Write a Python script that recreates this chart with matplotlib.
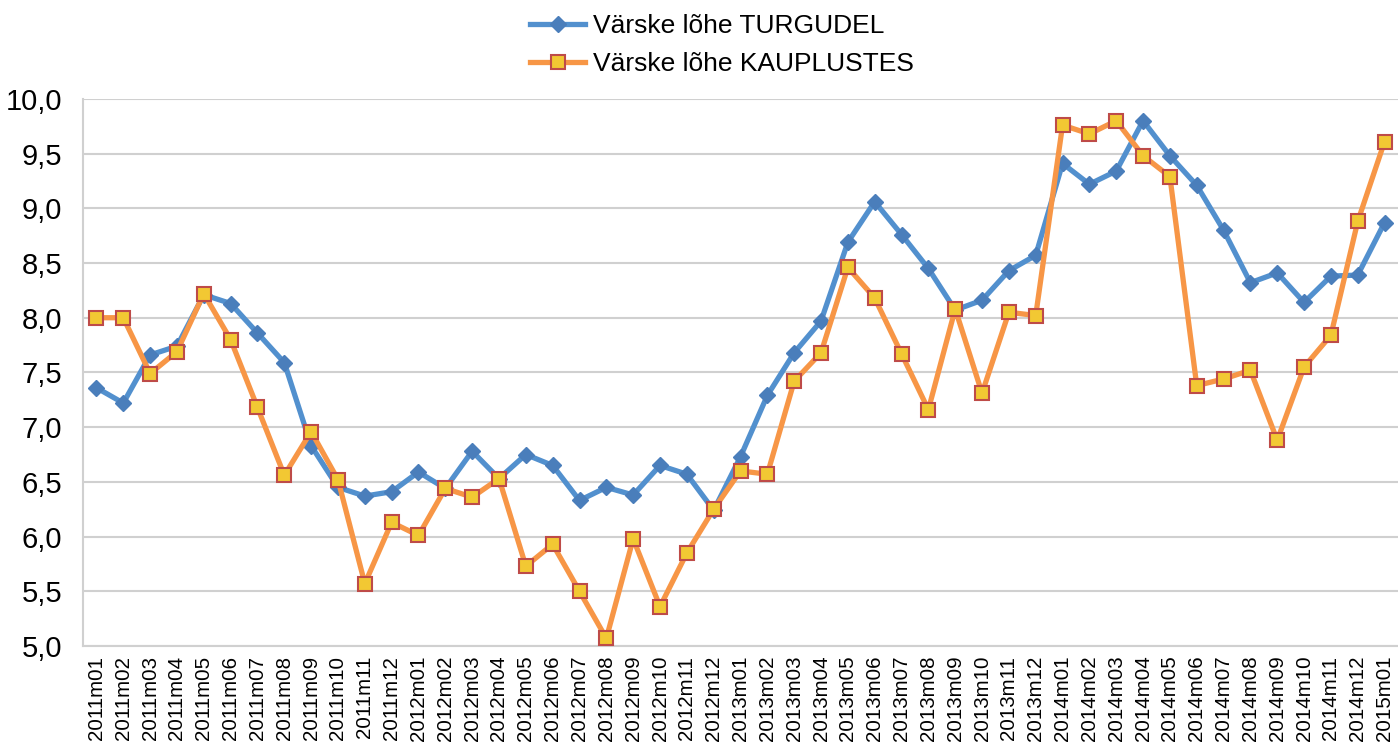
import matplotlib.pyplot as plt
from matplotlib.ticker import FuncFormatter

kuud = [f"{a}m{k:02d}" for a in range(2011, 2015) for k in range(1, 13)] + ["2015m01"]

turgudel = [7.36, 7.22, 7.66, 7.74, 8.21, 8.13, 7.86, 7.59, 6.83, 6.45, 6.37, 6.41,
            6.59, 6.44, 6.78, 6.53, 6.75, 6.65, 6.33, 6.45, 6.38, 6.65, 6.57, 6.24,
            6.73, 7.29, 7.68, 7.97, 8.69, 9.06, 8.76, 8.45, 8.07, 8.16, 8.43, 8.57,
            9.41, 9.22, 9.34, 9.80, 9.48, 9.21, 8.80, 8.32, 8.41, 8.14, 8.38, 8.39,
            8.87]
kauplustes = [8.00, 8.00, 7.49, 7.69, 8.22, 7.80, 7.18, 6.56, 6.96, 6.52, 5.57, 6.13,
              6.01, 6.44, 6.36, 6.53, 5.73, 5.93, 5.50, 5.07, 5.98, 5.36, 5.85, 6.25,
              6.60, 6.57, 7.42, 7.68, 8.46, 8.18, 7.67, 7.16, 8.08, 7.31, 8.05, 8.02,
              9.76, 9.68, 9.80, 9.48, 9.29, 7.38, 7.44, 7.52, 6.88, 7.55, 7.84, 8.88,
              9.61]

plt.rcParams['font.family'] = ['Liberation Sans', 'DejaVu Sans']

fig = plt.figure(figsize=(13.98, 7.49), dpi=100)
ax = fig.add_axes([0.0594, 0.1375, 0.9406, 0.7305])

x = range(len(kuud))
ax.plot(x, turgudel, color='#5290CE', lw=3.8, marker='D', ms=8.5,
        mfc='#4A7EBB', mec='#4A7EBB', label='Värske lõhe TURGUDEL', zorder=3)
ax.plot(x, kauplustes, color='#F79646', lw=3.8, marker='s', ms=10.5,
        mfc='#F2C833', mec='#BE4B48', mew=1.5, label='Värske lõhe KAUPLUSTES', zorder=4)

ax.set_xlim(-0.5, len(kuud) - 0.5)
ax.set_ylim(5.0, 10.0)
ax.set_yticks([5.0 + 0.5 * i for i in range(11)])
ax.yaxis.set_major_formatter(FuncFormatter(lambda v, p: f"{v:.1f}".replace('.', ',')))
ax.set_xticks(list(x))
ax.set_xticklabels(kuud, rotation=90, fontsize=14.8)
ax.tick_params(axis='y', labelsize=21, length=0, pad=15)
ax.tick_params(axis='x', length=0, pad=7)
ax.grid(axis='y', color='#D0D0D0', lw=1.5)
ax.set_axisbelow(True)
for s in ['top', 'right']:
    ax.spines[s].set_visible(False)
for s in ['left', 'bottom']:
    ax.spines[s].set_color('#D0D0D0')
    ax.spines[s].set_linewidth(1.5)

ax.legend(loc='lower center', bbox_to_anchor=(0.486, 1.0), frameon=False,
          fontsize=19, handlelength=2.1, handletextpad=0.3, labelspacing=0.55,
          borderaxespad=0.45)

fig.savefig('out.png', dpi=100)
